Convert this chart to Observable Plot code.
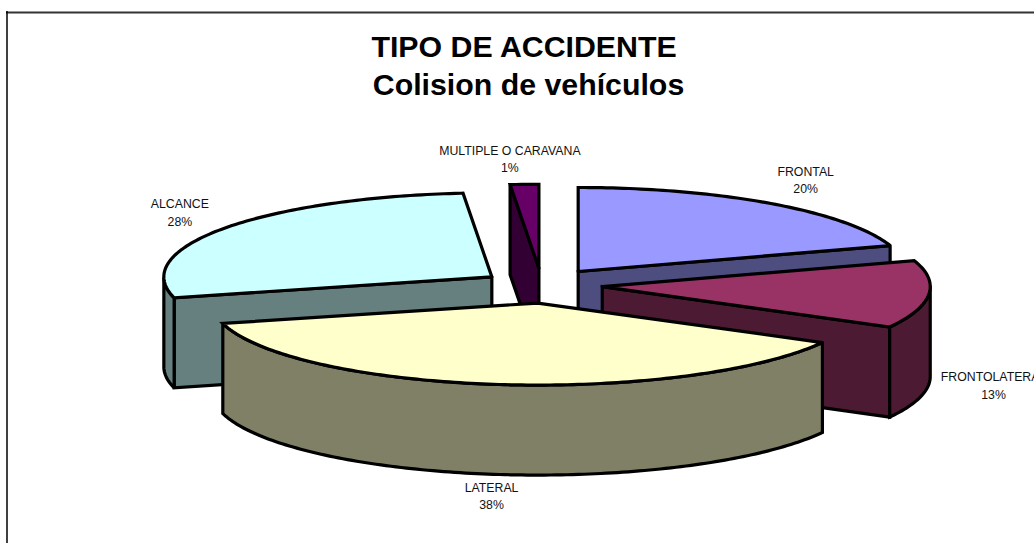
<!DOCTYPE html>
<html>
<head>
<meta charset="utf-8">
<style>html,body{margin:0;padding:0;background:#fff}svg{display:block}</style>
<script src="https://cdn.jsdelivr.net/npm/d3@7"></script>
<script src="https://cdn.jsdelivr.net/npm/@observablehq/plot@0.6"></script>
</head>
<body>
<script>
// Data
const categories = ["FRONTAL", "FRONTOLATERAL", "LATERAL", "ALCANCE", "MULTIPLE O CARAVANA"];
const shares = [20, 13, 38, 27.6, 1.4];
const titleLines = ["TIPO DE ACCIDENTE", "Colision de vehículos"];
// Style
const topColors = ["#9999FF", "#993366", "#FFFFCC", "#CCFFFF", "#660066"];
const sideColors = ["#4D4D80", "#4D1A33", "#808066", "#668080", "#330033"];
// Layout of the pie (projected 3D view), in picture units
const pie = {cx: 543, cy: 284.5, depth: 90, explodeX: 59, explodeY: 16.7};
const radiusX = [328, 328, 325, 328, 328];
const radiusY = [84, 84, 82, 84, 84];
const centerNudgeX = [0, 0, 1.5, -3.5, -2];
const centerNudgeY = [0, 0, 1.5, 1.5, 0];
const labelNudgeX = [0, 6, 2, 4, -12];
const labelNudgeY = [-6, -2, -1.5, -4, -4];
const paintOrder = [4, 0, 3, 1, 2];

const total = d3.sum(shares);
const rad = d => d * Math.PI / 180;
let acc = 0;
const slices = shares.map((v, i) => {
  const a0 = acc / total * 360; acc += v; const a1 = acc / total * 360;
  const mid = rad((a0 + a1) / 2);
  const cx = pie.cx + pie.explodeX * Math.sin(mid) + centerNudgeX[i];
  const cy = pie.cy - pie.explodeY * Math.cos(mid) + centerNudgeY[i];
  return {i, a0, a1, mid, cx, cy, rx: radiusX[i], ry: radiusY[i]};
});
const rim = (s, a) => ({x: s.cx + s.rx * Math.sin(rad(a)), y: s.cy - s.ry * Math.cos(rad(a))});
const drop = p => ({x: p.x, y: p.y + pie.depth});
const closed = pts => [...pts, pts[0]];
function wall(edge) { return closed([...edge, ...edge.slice().reverse().map(drop)]); }

const marks = [];
const face = (pts, fill) => marks.push(Plot.line(pts, {
  x: "x", y: "y", fill, stroke: "#000", strokeWidth: 3.2,
  strokeLinejoin: "miter", strokeMiterlimit: 2.5, curve: "linear"
}));

for (const i of paintOrder) {
  const s = slices[i];
  const apex = {x: s.cx, y: s.cy};
  const arc = d3.range(s.a0, s.a1, 1).concat([s.a1]).map(a => rim(s, a));
  // Walls facing the viewer are those whose outline edge runs leftward
  const first = arc[0], last = arc[arc.length - 1];
  if (first.x < apex.x) face(wall([apex, first]), sideColors[i]);
  if (apex.x < last.x) face(wall([last, apex]), sideColors[i]);
  let run = [];
  const flush = () => { if (run.length > 1) face(wall(run), sideColors[i]); run = []; };
  for (let k = 1; k < arc.length; k++) {
    if (arc[k].x < arc[k - 1].x) { if (!run.length) run.push(arc[k - 1]); run.push(arc[k]); }
    else flush();
  }
  flush();
  face(closed([apex, ...arc]), topColors[i]);
}

const labels = slices.map(s => {
  const lower = Math.cos(s.mid) < 0 && Math.abs(Math.sin(s.mid)) < 0.999;
  return {
    x: s.cx + 1.18 * s.rx * Math.sin(s.mid) + labelNudgeX[s.i],
    y: s.cy - 1.27 * s.ry * Math.cos(s.mid) + (lower ? pie.depth : 0) + labelNudgeY[s.i],
    text: `${categories[s.i]}\n${Math.round(shares[s.i])}%`
  };
});

const chart = Plot.plot({
  width: 1034, height: 543,
  margin: 0,
  x: {domain: [0, 1034], range: [0, 1034], axis: null},
  y: {domain: [0, 543], range: [0, 543], axis: null},
  style: {background: "#fff", fontFamily: "'Liberation Sans', Arial, sans-serif"},
  marks: [
    Plot.ruleY([12], {x1: 6, x2: 1034, stroke: "#333", strokeWidth: 2}),
    Plot.ruleX([6.5], {y1: 11, y2: 543, stroke: "#000", strokeWidth: 1.5}),
    ...marks,
    Plot.text(labels, {x: "x", y: "y", text: "text", fontSize: 12.3, lineHeight: 1.42, fill: "#111", textAnchor: "middle"}),
    Plot.text([titleLines[0]], {x: () => 523.5, y: () => 46.5, text: d => d, fontSize: 30.3, fontWeight: "bold", fill: "#000"}),
    Plot.text([titleLines[1]], {x: () => 528, y: () => 85, text: d => d, fontSize: 30.3, fontWeight: "bold", fill: "#000"})
  ]
});
document.body.appendChild(chart);
</script>
</body>
</html>
